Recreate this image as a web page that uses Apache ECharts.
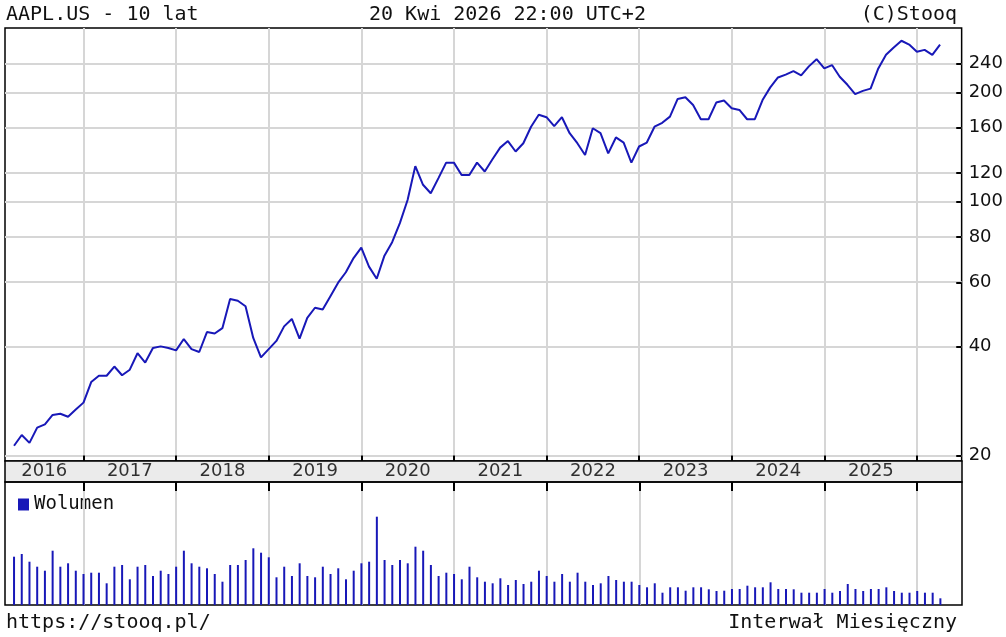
<!DOCTYPE html>
<html><head><meta charset="utf-8">
<script src="https://cdn.jsdelivr.net/npm/echarts@6/dist/echarts.min.js"></script>
<style>html,body{margin:0;padding:0;background:#fff}#c{width:1006px;height:637px}</style>
</head><body><div id="c"></div>
<script>
// Monthly closes, Apr 2016 .. Apr 2026
const price = [21.3,22.8,21.7,23.9,24.4,25.9,26.1,25.6,26.8,28.0,
31.9,33.2,33.2,35.2,33.3,34.5,38.3,36.1,39.6,40.0,
39.6,39.0,41.9,39.3,38.6,43.8,43.4,44.9,54.0,53.4,
51.6,42.2,37.3,39.3,41.4,45.4,47.6,42.0,47.9,51.1,
50.5,55.0,59.9,64.0,70.0,74.8,66.3,61.4,71.1,77.4,
87.4,101.2,125.4,111.4,105.6,116.2,128.2,128.2,118.5,118.5,
128.2,121.2,131,141,147,137.6,145,161,173.6,171,
161.6,171,154.5,145,134.6,159.4,154.5,136,150.4,145.6,
128.2,142,145.6,161,165,171.6,192,194,184.8,168.8,
168.8,187.6,190,181,179,168.8,168.8,190.6,206.6,220,
224,229,223,236,247,233,238,221,210,198,
202,205,233,254,266,277.6,271,259,262,254,271];
// Monthly volume (relative units)
const volume = [48.3,51,43.3,38.3,34.3,54.3,38.3,41.7,34.3,31,
32.3,32.3,21.7,38.3,40,25.7,38.3,40,29,34.3,
31,38.3,54.3,41.7,38.3,36.7,31,23.3,40,40,
45,56.7,52.3,47.7,27.7,38.3,29,41.7,29,27.7,
38.3,31,36.7,25.7,34.3,41.7,43.3,88.3,45,40,
45,41.7,58.3,54.3,40,29,32.3,31,25.7,38.3,
27.7,23.3,21.7,26.7,20,25,21,23.3,34.3,29,
23.3,31,23.3,32.3,23.3,20,21.7,29,25,23.3,
23.3,20,17.7,21.7,12.3,17.7,17.7,14.3,17.7,17.7,
15.7,14,14.3,16,16,19.3,17.7,17.7,22.7,16,
16,15.7,12.3,12.3,12.3,16,12.3,14,21,16,
14,16,16,17.7,14,12.3,12.3,14,12.3,12.3,6.7];
const years = [2016,2017,2018,2019,2020,2021,2022,2023,2024,2025];
const priceTicks = [20,40,60,80,100,120,160,200,240];
const startYear = 2016, startMonth = 4;

const xMin = -1.17, xMax = 122.8;
const yMin = Math.log2(19.34), yMax = Math.log2(301);
const janIdx = y => (y - startYear) * 12 - (startMonth - 1);
const yearLines = years.slice(1).concat([2026]).map(y => janIdx(y));
const yearLabelData = years.map(y => {
  const a = Math.max(janIdx(y), xMin), b = janIdx(y + 1);
  return { value: [(a + b) / 2, 0], name: String(y) };
});
const priceData = price.map((p, i) => [i, Math.log2(p)]);
const volData = volume.map((v, i) => [i, v]);
const mono = 'DejaVu Sans Mono';
const blue = '#1818b8';
const gridLine = { color: '#d6d6d6', width: 2, type: 'solid' };
const mk = data => ({ silent: true, symbol: ['none', 'none'], label: { show: false }, lineStyle: gridLine, animation: false, data });
const vLines = yearLines.map(x => ({ xAxis: x }));
const hLines = priceTicks.map(t => ({ yAxis: Math.log2(t) }));
const xBase = { type: 'value', min: xMin, max: xMax, axisLabel: { show: false }, axisTick: { show: false }, splitLine: { show: false }, axisLine: { show: false } };
const hiddenY = (g, mn, mx) => ({ gridIndex: g, type: 'value', min: mn, max: mx, axisLabel: { show: false }, axisTick: { show: false }, splitLine: { show: false }, axisLine: { show: false } });
const tstyle = { fontFamily: mono, fontSize: 20, fontWeight: 'normal', color: '#111' };
const blackTick = { color: '#000', width: 2, type: 'solid' };

const chart = echarts.init(document.getElementById('c'), null, { renderer: 'canvas' });
chart.setOption({
  animation: false,
  backgroundColor: '#fff',
  title: [
    { text: 'AAPL.US - 10 lat', left: 1, top: 0, textStyle: tstyle },
    { text: '20 Kwi 2026 22:00 UTC+2', left: 364, top: 0, textStyle: tstyle },
    { text: '(C)Stooq', right: 44, top: 0, textStyle: tstyle },
    { text: 'https://stooq.pl/', left: 1, top: 608, textStyle: tstyle },
    { text: 'Interwał Miesięczny', right: 44, top: 608, textStyle: tstyle }
  ],
  legend: {
    data: [{ name: 'Wolumen', icon: 'rect' }], left: 13, top: 490, itemWidth: 11, itemHeight: 12, itemGap: 4,
    textStyle: { fontFamily: mono, fontSize: 19, color: '#111' },
    selectedMode: false
  },
  grid: [
    { left: 5, right: 44, top: 28, height: 433, show: true, borderColor: '#000', borderWidth: 1.5 },
    { left: 5, right: 44, top: 461, height: 21, show: true, backgroundColor: '#ebebeb', borderColor: '#000', borderWidth: 1.5 },
    { left: 5, right: 44, top: 482, height: 123, show: true, borderColor: '#000', borderWidth: 1.5 }
  ],
  xAxis: [
    Object.assign({ gridIndex: 0 }, xBase),
    Object.assign({ gridIndex: 1 }, xBase),
    Object.assign({ gridIndex: 2 }, xBase)
  ],
  yAxis: [
    { gridIndex: 0, type: 'value', position: 'right', min: yMin, max: yMax,
      axisLine: { show: false }, splitLine: { show: false }, axisTick: { show: false },
      axisLabel: { show: true, margin: 7, fontFamily: 'DejaVu Sans', fontSize: 18, color: '#111',
        customValues: priceTicks.map(t => Math.log2(t)),
        formatter: v => String(Math.round(Math.pow(2, v))) } },
    hiddenY(1, -1, 1),
    hiddenY(2, 0, 123)
  ],
  series: [
    { type: 'line', xAxisIndex: 0, yAxisIndex: 0, data: [], zlevel: 0, markLine: mk(vLines.concat(hLines)) },
    { type: 'line', xAxisIndex: 2, yAxisIndex: 2, data: [], zlevel: 0, markLine: mk(vLines) },
    // short black ticks: right side of price panel, and year marks above/below the strip
    { type: 'line', xAxisIndex: 0, yAxisIndex: 0, data: [], zlevel: 1,
      markLine: { silent: true, symbol: ['none', 'none'], label: { show: false }, lineStyle: blackTick,
        data: priceTicks.map(t => [{ coord: [xMax, Math.log2(t)] }, { coord: [xMax - 0.7, Math.log2(t)] }])
          .concat(yearLines.map(x => [{ coord: [x, yMin] }, { coord: [x, yMin + 0.05] }])) } },
    { type: 'line', xAxisIndex: 2, yAxisIndex: 2, data: [], zlevel: 1,
      markLine: { silent: true, symbol: ['none', 'none'], label: { show: false }, lineStyle: blackTick,
        data: yearLines.map(x => [{ coord: [x, 123] }, { coord: [x, 114] }]) } },
    { type: 'line', xAxisIndex: 0, yAxisIndex: 0, data: priceData, showSymbol: false, symbol: 'none', zlevel: 1,
      lineStyle: { color: blue, width: 2 } },
    { type: 'scatter', xAxisIndex: 1, yAxisIndex: 1, data: yearLabelData, symbolSize: 1, zlevel: 1,
      itemStyle: { color: 'rgba(0,0,0,0)' },
      label: { show: true, position: 'inside', formatter: p => p.name, fontFamily: 'DejaVu Sans', fontSize: 18, color: '#000' } },
    { name: 'Wolumen', type: 'bar', xAxisIndex: 2, yAxisIndex: 2, data: volData, barWidth: 2, zlevel: 1,
      itemStyle: { color: blue } }
  ]
});
</script></body></html>
